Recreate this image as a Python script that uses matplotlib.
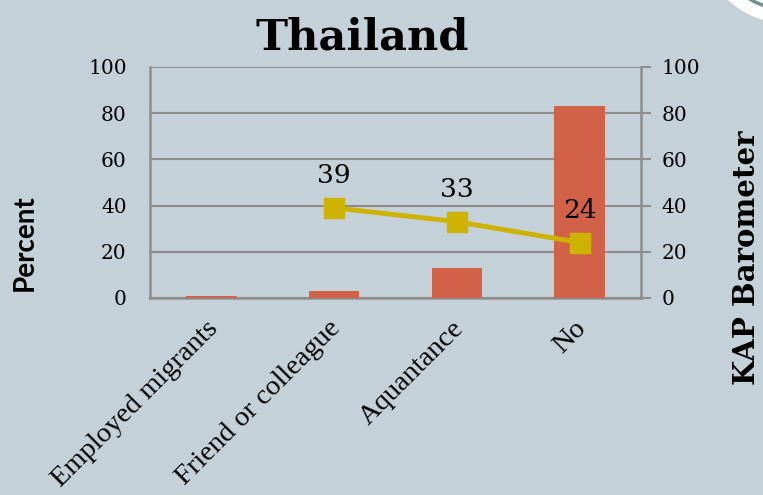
import matplotlib
matplotlib.use("Agg")
import matplotlib.pyplot as plt
import matplotlib.transforms as mtransforms
from matplotlib.patches import Circle

categories = ["Employed migrants", "Friend or colleague", "Aquantance", "No"]
percent = [1, 3, 13, 83]
kap_x = [1, 2, 3]
kap_values = [39, 33, 24]
y_ticks = [0, 20, 40, 60, 80, 100]

BG = "#c5d1d8"
BAR = "#d16247"
LINE = "#cdb300"
GRID = "#8e8e8e"

fig = plt.figure(figsize=(7.63, 4.95), dpi=100, facecolor=BG)
ax = fig.add_axes([0.197, 0.398, 0.643, 0.467])
ax.set_facecolor(BG)

x = range(len(categories))
ax.bar(x, percent, width=0.41, color=BAR, zorder=3)
ax.set_xlim(-0.5, len(categories) - 0.5)
ax.set_ylim(0, 100)
ax.set_yticks(y_ticks)
ax.set_yticklabels([str(v) for v in y_ticks], family="DejaVu Serif", fontsize=14.5)
ax.tick_params(axis="y", length=0, pad=17)
ax.set_xticks(list(x))
ax.set_xticklabels(categories, rotation=45, ha="right", rotation_mode="anchor",
                   family="Liberation Serif", fontsize=20.5)
ax.tick_params(axis="x", length=0, pad=13)
# nudge the slanted category labels a little to the left
shift = mtransforms.ScaledTranslation(-6 / 100, 0, fig.dpi_scale_trans)
for lbl in ax.get_xticklabels():
    lbl.set_transform(lbl.get_transform() + shift)
ax.yaxis.grid(True, color=GRID, lw=1.5, zorder=0)
for s in ["left", "bottom"]:
    ax.spines[s].set_color(GRID)
    ax.spines[s].set_linewidth(1.8)
ax.spines["top"].set_visible(False)
ax.spines["right"].set_visible(False)

ax2 = ax.twinx()
ax2.set_ylim(0, 100)
ax2.set_yticks(y_ticks)
ax2.set_yticklabels([str(v) for v in y_ticks], family="DejaVu Serif", fontsize=14.5)
ax2.tick_params(axis="y", length=7, width=1.5, color=GRID, pad=8)
for s in ["left", "top", "bottom"]:
    ax2.spines[s].set_visible(False)
ax2.spines["right"].set_color(GRID)
ax2.spines["right"].set_linewidth(1.8)
ax2.plot(kap_x, kap_values, color=LINE, lw=3.5, marker="s", markersize=14, zorder=4)
for xi, v in zip(kap_x, kap_values):
    ax2.annotate(str(v), (xi, v), xytext=(0, 14), textcoords="offset points",
                 ha="center", va="bottom", family="DejaVu Serif", fontsize=19)

# axis titles placed on the figure, not centred on the axes
fig.text(0.032, 0.51, "Percent", rotation=90, ha="center", va="center",
         family="Lato", fontweight="bold", fontsize=20)
fig.text(0.979, 0.479, "KAP Barometer", rotation=90, ha="center", va="center",
         family="DejaVu Serif", fontweight="bold", fontsize=21)
fig.text(0.475, 0.925, "Thailand", ha="center", va="center",
         family="DejaVu Serif", fontweight="bold", fontsize=31)

# corner ornament
fig.add_artist(Circle((7.855, 5.55), 0.83, transform=fig.dpi_scale_trans,
                      facecolor="white", edgecolor="none"))
fig.add_artist(Circle((7.855, 5.55), 0.69, transform=fig.dpi_scale_trans,
                      facecolor="white", edgecolor="#6f9190", lw=2.5))

fig.savefig("out.png", dpi=100, facecolor=BG)
